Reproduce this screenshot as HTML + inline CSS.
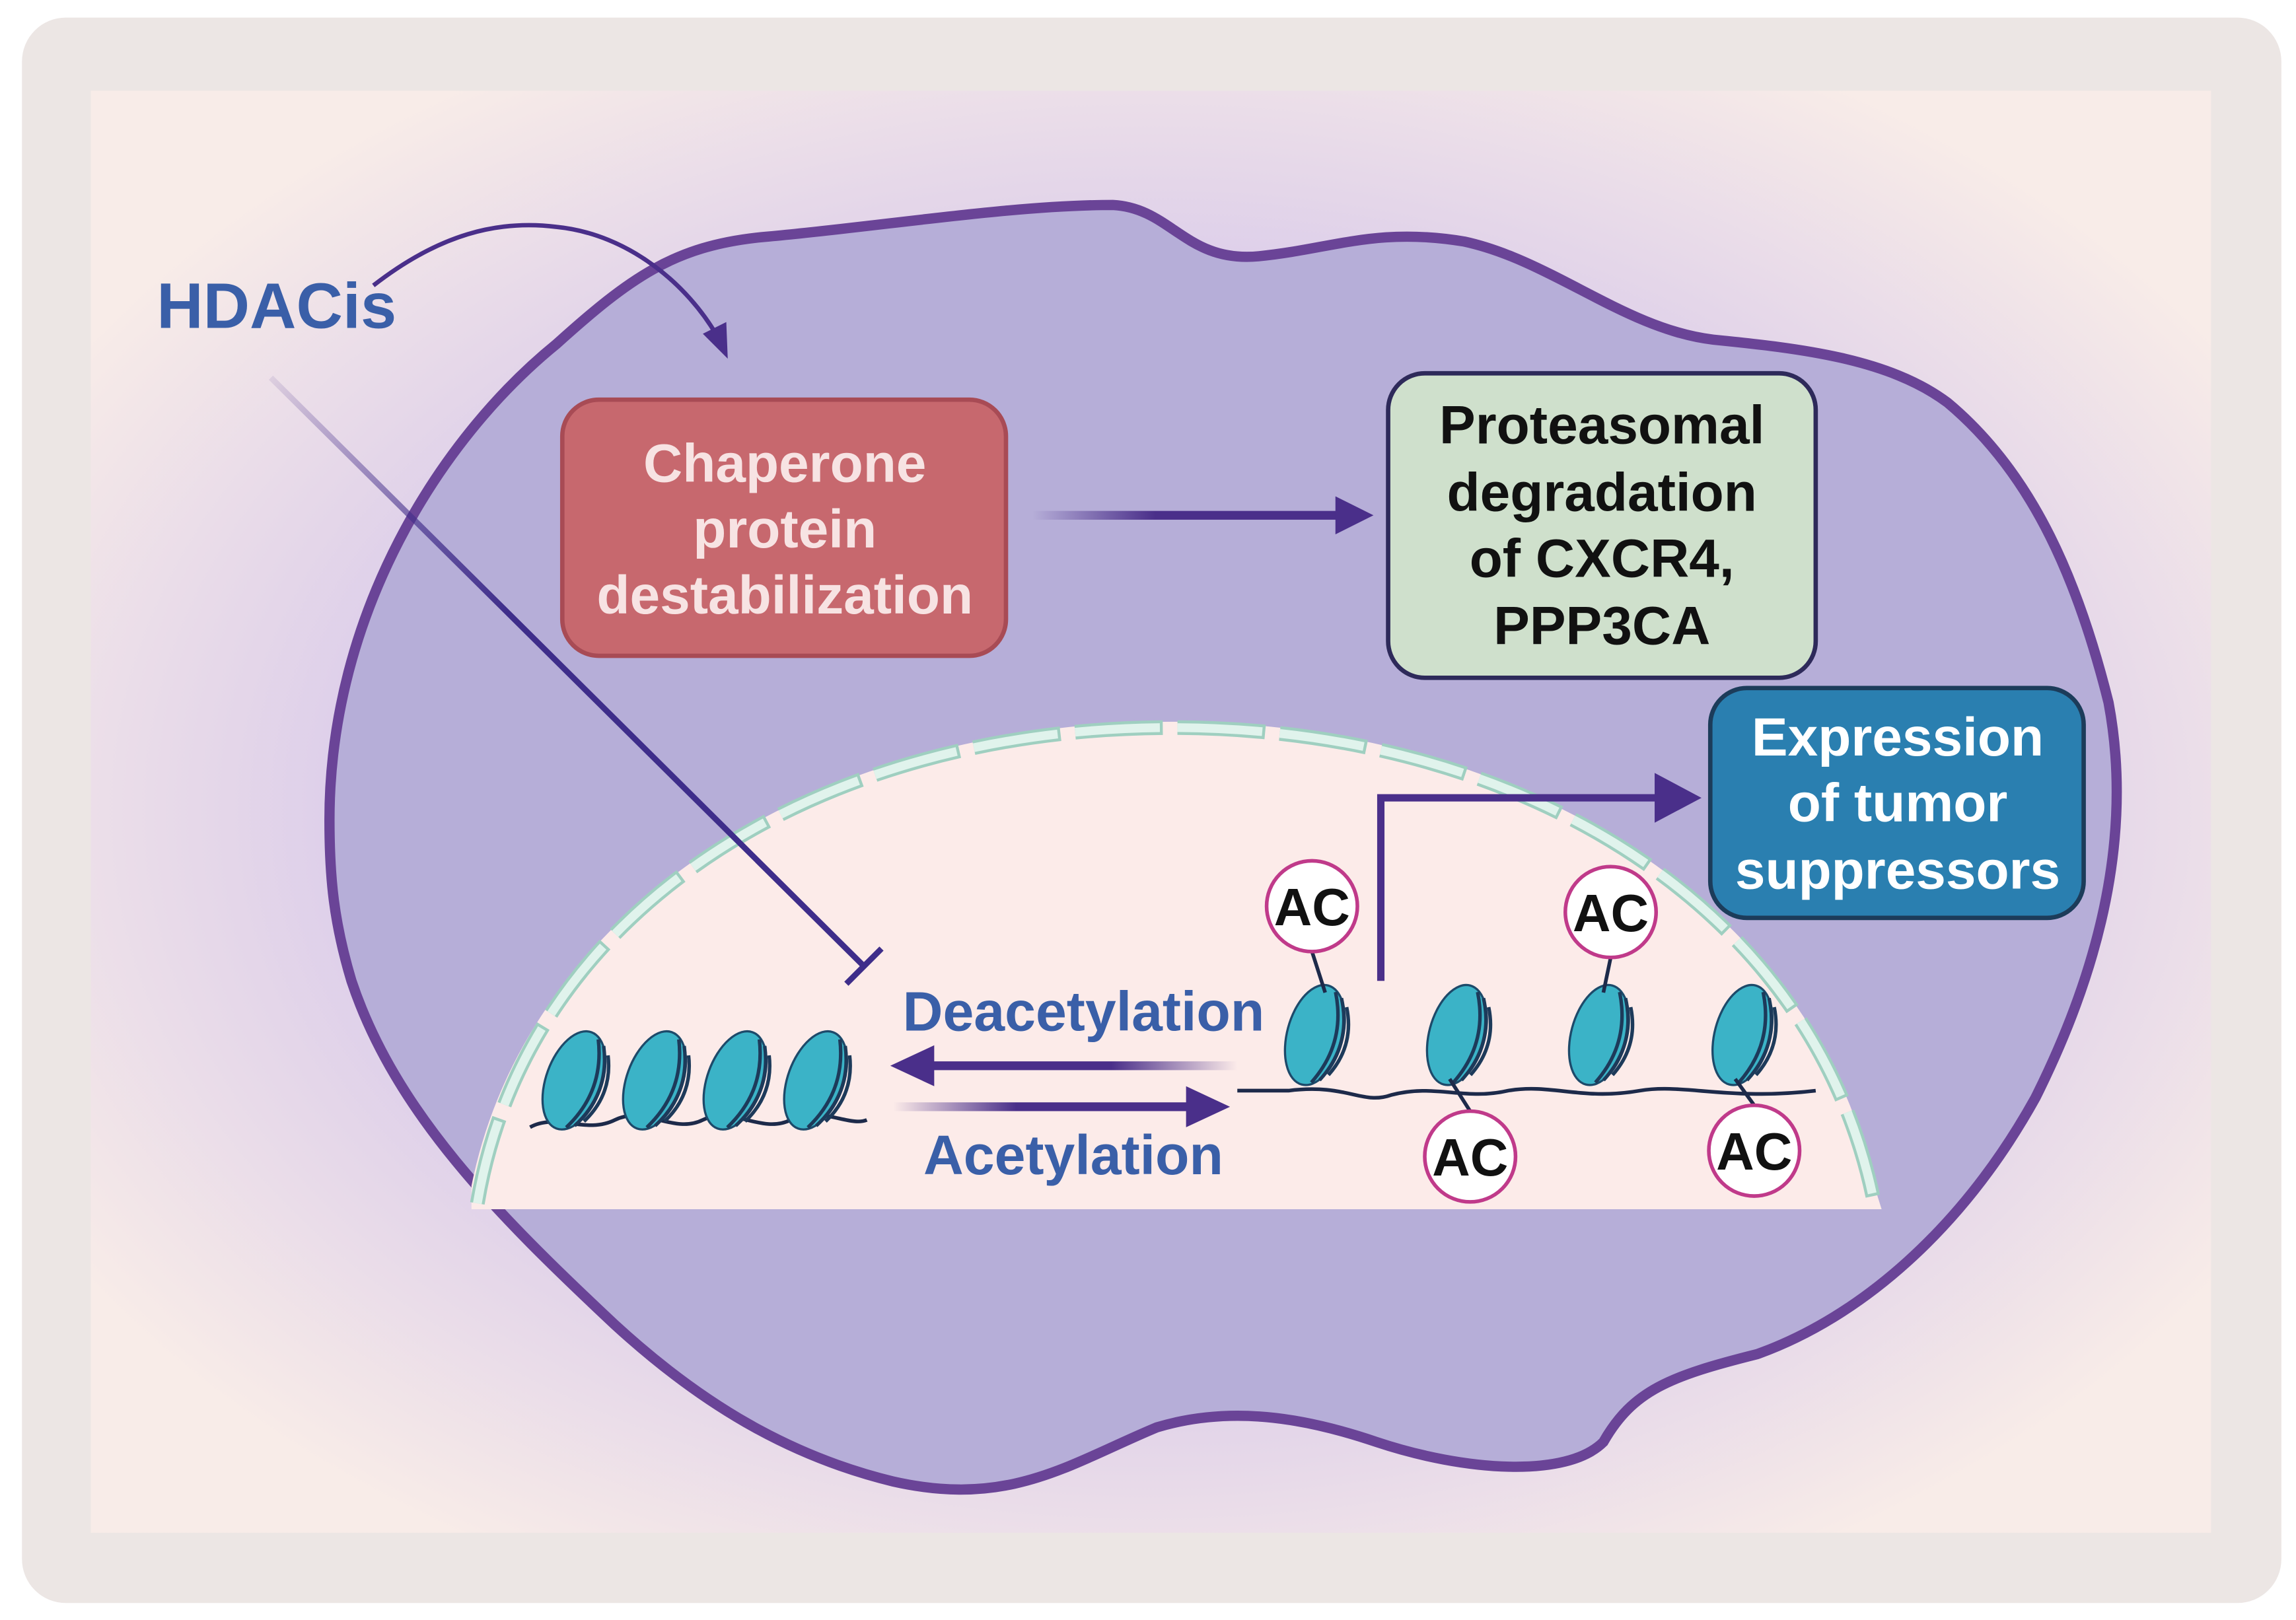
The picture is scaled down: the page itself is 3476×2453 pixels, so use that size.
<!DOCTYPE html>
<html><head><meta charset="utf-8"><style>
html,body{margin:0;padding:0;background:#fff;}
svg{display:block;}
text{font-family:"Liberation Sans",sans-serif;font-weight:bold;}
</style></head><body>
<svg width="3476" height="2453" viewBox="0 0 1568 1106.6" preserveAspectRatio="none" xmlns="http://www.w3.org/2000/svg">
<defs>
<radialGradient id="glow" cx="50%" cy="50%" r="60%">
<stop offset="0" stop-color="#c9b6e6"/><stop offset="0.55" stop-color="#d7c8ea"/><stop offset="1" stop-color="#f8ece8"/>
</radialGradient>
<linearGradient id="fadeL" x1="0" x2="1"><stop offset="0" stop-color="#4a2f8a" stop-opacity="0"/><stop offset="0.4" stop-color="#4a2f8a"/></linearGradient>
<linearGradient id="fadeD" x1="185" y1="258" x2="590" y2="660" gradientUnits="userSpaceOnUse"><stop offset="0" stop-color="#4a2f8a" stop-opacity="0.1"/><stop offset="0.4" stop-color="#3e2d8a"/></linearGradient>
<linearGradient id="fadeR" x1="1" x2="0"><stop offset="0" stop-color="#4a2f8a" stop-opacity="0"/><stop offset="0.4" stop-color="#4a2f8a"/></linearGradient>
<g id="nuc"><ellipse cx="0" cy="0" rx="19" ry="35" fill="#3bb3c7" stroke="#1d4a6a" stroke-width="1.5"/><path d="M6,-32 Q22,0 6,32 M11,-29 Q26,0 11,29 M16,-24 Q28,0 16,24" fill="none" stroke="#1d3a5a" stroke-width="2.4"/></g>
</defs>
<rect x="15" y="12" width="1543" height="1083" rx="30" fill="#ece6e4"/>
<rect x="62" y="62" width="1448" height="985" fill="url(#glow)"/>
<path d="M225,560 C225,420 300,300 380,235 C430,190 460,168 520,162 C600,155 690,140 760,140 C800,142 810,180 860,175 C910,170 940,155 1000,165 C1060,178 1110,225 1170,232 C1230,238 1290,245 1330,275 C1390,325 1420,400 1440,480 C1455,560 1440,650 1390,750 C1340,840 1270,900 1200,925 C1140,940 1115,950 1095,985 C1070,1010 1000,1005 940,985 C890,968 840,960 790,975 C730,1000 690,1030 610,1012 C540,995 480,960 420,905 C340,830 270,760 240,670 C228,630 225,600 225,560 Z" fill="#b6aed8" stroke="#6a4497" stroke-width="7"/>
<path d="M322,826 L322,810 C360,620 560,493 800,493 C1040,493 1240,620 1280,810 L1285,826 Z" fill="#fcebe9"/>
<path d="M326,822 C360,620 560,497 800,497 C1040,497 1240,620 1280,822" fill="none" stroke="#9fcfc0" stroke-width="10" stroke-dasharray="60,10"/>
<path d="M326,822 C360,620 560,497 800,497 C1040,497 1240,620 1280,822" fill="none" stroke="#e0f3ec" stroke-width="6" stroke-dasharray="58,12"/>
<rect x="384" y="273" width="303" height="175" rx="25" fill="#c7686e" stroke="#a84b55" stroke-width="3"/>
<g fill="#f7e3e3" font-size="37" text-anchor="middle"><text x="536" y="329">Chaperone</text><text x="536" y="374">protein</text><text x="536" y="419">destabilization</text></g>
<rect x="948" y="255" width="292" height="208" rx="25" fill="#cfe0cc" stroke="#2e2a5a" stroke-width="3"/>
<g fill="#111" font-size="37" text-anchor="middle"><text x="1094" y="303">Proteasomal</text><text x="1094" y="349">degradation</text><text x="1094" y="394">of CXCR4,</text><text x="1094" y="440">PPP3CA</text></g>
<rect x="1168" y="470" width="255" height="157" rx="25" fill="#2a7fb0" stroke="#1c3c5a" stroke-width="3"/>
<g fill="#fff" font-size="37" text-anchor="middle"><text x="1296" y="516">Expression</text><text x="1296" y="561">of tumor</text><text x="1296" y="607">suppressors</text></g>
<text x="107" y="224" font-size="44" fill="#3a5fa8">HDACis</text>
<path d="M255,195 C300,160 340,150 380,155 C430,160 470,195 490,230" fill="none" stroke="#4a2f8a" stroke-width="3"/>
<path d="M480,228 L497,245 L496,220 Z" fill="#4a2f8a"/>
<line x1="185" y1="258" x2="590" y2="660" stroke="url(#fadeD)" stroke-width="4"/>
<line x1="578" y1="672" x2="602" y2="648" stroke="#3e2d8a" stroke-width="4"/>
<rect x="705" y="349" width="210" height="6" fill="url(#fadeL)"/>
<path d="M912,339 L938,352 L912,365 Z" fill="#4a2f8a"/>
<path d="M943,670 L943,545 L1135,545" fill="none" stroke="#4a2f8a" stroke-width="5"/>
<path d="M1130,528 L1162,545 L1130,562 Z" fill="#4a2f8a"/>
<text x="740" y="704" font-size="38" fill="#3a5fa8" text-anchor="middle">Deacetylation</text>
<rect x="630" y="725" width="215" height="6" fill="url(#fadeR)"/>
<path d="M638,714 L608,728 L638,742 Z" fill="#4a2f8a"/>
<rect x="610" y="753" width="210" height="6" fill="url(#fadeL)"/>
<path d="M810,742 L840,756 L810,770 Z" fill="#4a2f8a"/>
<text x="733" y="802" font-size="38" fill="#3a5fa8" text-anchor="middle">Acetylation</text>
<path d="M362,770 C380,760 400,775 420,765 C440,755 460,775 480,765 C500,755 520,775 540,765 C560,755 580,770 592,765" fill="none" stroke="#1d2a4a" stroke-width="2.5"/>
<path d="M845,745 L880,745 C920,740 930,755 950,748 C980,740 1000,752 1030,745 C1060,740 1080,752 1120,745 C1150,740 1180,752 1240,745" fill="none" stroke="#1d2a4a" stroke-width="2.5"/>
<g transform="translate(392,738) rotate(20)"><use href="#nuc"/></g>
<g transform="translate(447,738) rotate(20)"><use href="#nuc"/></g>
<g transform="translate(502,738) rotate(20)"><use href="#nuc"/></g>
<g transform="translate(557,738) rotate(20)"><use href="#nuc"/></g>
<g transform="translate(898,707) rotate(15)"><use href="#nuc"/></g>
<g transform="translate(995,707) rotate(15)"><use href="#nuc"/></g>
<g transform="translate(1092,707) rotate(15)"><use href="#nuc"/></g>
<g transform="translate(1190,707) rotate(15)"><use href="#nuc"/></g>
<g stroke="#1d2a4a" stroke-width="2.5"><line x1="896" y1="650" x2="905" y2="678"/><line x1="1100" y1="654" x2="1095" y2="678"/><line x1="1004" y1="759" x2="990" y2="737"/><line x1="1198" y1="755" x2="1185" y2="737"/></g>
<g fill="#fff" stroke="#c03a8a" stroke-width="2.5"><circle cx="896" cy="619" r="31"/><circle cx="1100" cy="623" r="31"/><circle cx="1004" cy="790" r="31"/><circle cx="1198" cy="786" r="31"/></g>
<g font-size="36" fill="#111" text-anchor="middle"><text x="896" y="632">AC</text><text x="1100" y="636">AC</text><text x="1004" y="803">AC</text><text x="1198" y="799">AC</text></g>
</svg>
</body></html>
